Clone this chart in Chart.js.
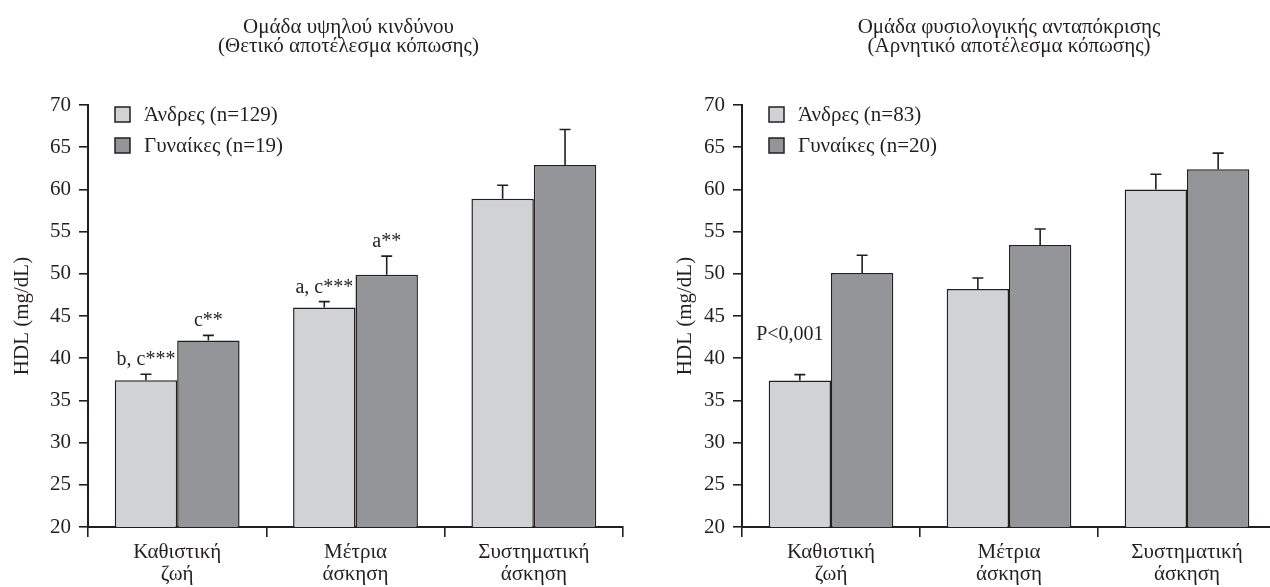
<!DOCTYPE html>
<html><head><meta charset="utf-8">
<script src="https://cdn.jsdelivr.net/npm/chart.js@4/dist/chart.umd.min.js"></script>
<style>
html,body{margin:0;padding:0;background:#fff;overflow:hidden;width:1270px;height:587px;position:relative;}
#w1{position:absolute;left:0;top:0;width:640px;height:587px;}
#w2{position:absolute;left:660px;top:0;width:640px;height:587px;}
</style></head><body>
<div id="w1"><canvas id="c1"></canvas></div>
<div id="w2"><canvas id="c2"></canvas></div>
<script>
// ---- data ----
const categories = [['Καθιστική', 'ζωή'], ['Μέτρια', 'άσκηση'], ['Συστηματική', 'άσκηση']];
const yTickValues = [20, 25, 30, 35, 40, 45, 50, 55, 60, 65, 70];
const yAxisTitle = 'HDL (mg/dL)';

const leftTitle = ['Ομάδα υψηλού κινδύνου', '(Θετικό αποτέλεσμα κόπωσης)'];
const leftMenLabel = 'Άνδρες (n=129)';
const leftWomenLabel = 'Γυναίκες (n=19)';
const leftMen = [37.4, 46.0, 58.9];
const leftMenErr = [0.7, 0.7, 1.6];
const leftWomen = [42.1, 49.9, 62.9];
const leftWomenErr = [0.6, 2.2, 4.2];
const leftMenNotes = ['b, c***', 'a, c***', ''];
const leftWomenNotes = ['c**', 'a**', ''];

const rightTitle = ['Ομάδα φυσιολογικής ανταπόκρισης', '(Αρνητικό αποτέλεσμα κόπωσης)'];
const rightMenLabel = 'Άνδρες (n=83)';
const rightWomenLabel = 'Γυναίκες (n=20)';
const rightMen = [37.35, 48.2, 60.0];
const rightMenErr = [0.7, 1.3, 1.8];
const rightWomen = [50.1, 53.4, 62.4];
const rightWomenErr = [2.1, 1.9, 1.9];
const rightMenNotes = ['P<0,001', '', ''];
const rightWomenNotes = ['', '', ''];

// ---- styles ----
const FONT = 'Liberation Serif';
const FS = 21;
const INK = '#231f20';
const MEN_COLOR = '#d1d2d4';
const WOMEN_COLOR = '#939598';

const errorBars = {
  id: 'errorBars',
  afterDatasetsDraw(chart) {
    const ctx = chart.ctx, ys = chart.scales.y;
    ctx.save();
    ctx.strokeStyle = INK; ctx.lineWidth = 1.6;
    chart.data.datasets.forEach((ds, i) => {
      const meta = chart.getDatasetMeta(i);
      meta.data.forEach((el, j) => {
        const top = ys.getPixelForValue(ds.data[j] + ds.errors[j]);
        ctx.beginPath();
        ctx.moveTo(el.x, el.y); ctx.lineTo(el.x, top);
        ctx.moveTo(el.x - 5.5, top); ctx.lineTo(el.x + 5.5, top);
        ctx.stroke();
      });
    });
    ctx.restore();
  }
};

const barNotes = {
  id: 'barNotes',
  afterDatasetsDraw(chart, args, opts) {
    const ctx = chart.ctx, ys = chart.scales.y;
    ctx.save();
    ctx.fillStyle = INK; ctx.font = (FS - 1) + 'px "' + FONT + '"';
    ctx.textAlign = 'center'; ctx.textBaseline = 'alphabetic';
    chart.data.datasets.forEach((ds, i) => {
      const meta = chart.getDatasetMeta(i);
      meta.data.forEach((el, j) => {
        const t = ds.notes[j];
        if (!t) return;
        const top = ys.getPixelForValue(ds.data[j] + ds.errors[j]);
        ctx.fillText(t, el.x + (opts.dx || 0), top - opts.gap);
      });
    });
    ctx.restore();
  }
};

const groupTitle = {
  id: 'groupTitle',
  afterDraw(chart, args, opts) {
    const ctx = chart.ctx, a = chart.chartArea;
    ctx.save();
    ctx.fillStyle = INK; ctx.font = FS + 'px "' + FONT + '"';
    ctx.textAlign = 'center'; ctx.textBaseline = 'middle';
    const cx = (a.left + a.right) / 2 + opts.dx;
    opts.text.forEach((line, k) => ctx.fillText(line, cx, opts.y + k * 19.5));
    ctx.restore();
  }
};

const boxLegend = {
  id: 'boxLegend',
  afterDraw(chart, args, opts) {
    const ctx = chart.ctx, a = chart.chartArea;
    ctx.save();
    ctx.font = FS + 'px "' + FONT + '"';
    ctx.textBaseline = 'middle'; ctx.textAlign = 'left';
    chart.data.datasets.forEach((ds, i) => {
      const x = a.left + opts.dx, y = a.top + opts.dy + i * 31;
      ctx.fillStyle = ds.backgroundColor;
      ctx.fillRect(x, y, 15, 15);
      ctx.strokeStyle = INK; ctx.lineWidth = 1.5;
      ctx.strokeRect(x, y, 15, 15);
      ctx.fillStyle = INK;
      ctx.fillText(ds.label, x + 29, y + 8);
    });
    ctx.restore();
  }
};

function makeChart(id, title, menLabel, men, menErr, menNotes, womenLabel, women, womenErr, womenNotes, yWidth, titlePad, padRight, titleDx, noteOpts) {
  return new Chart(document.getElementById(id), {
    type: 'bar',
    data: {
      labels: categories,
      datasets: [
        { label: menLabel, data: men, errors: menErr, notes: menNotes, backgroundColor: MEN_COLOR, borderColor: INK, borderWidth: 1.5 },
        { label: womenLabel, data: women, errors: womenErr, notes: womenNotes, backgroundColor: WOMEN_COLOR, borderColor: INK, borderWidth: 1.5 }
      ]
    },
    options: {
      responsive: true, maintainAspectRatio: false, animation: false,
      layout: { padding: { left: 0, right: padRight, top: 105, bottom: 0 } },
      datasets: { bar: { categoryPercentage: 0.7, barPercentage: 1.0 } },
      plugins: {
        legend: { display: false },
        tooltip: { enabled: false },
        title: { display: false },
        groupTitle: { text: title, y: 27, dx: titleDx },
        boxLegend: { dx: 27, dy: 2 },
        barNotes: noteOpts
      },
      scales: {
        x: {
          grid: { display: true, drawOnChartArea: false, drawTicks: true, tickLength: 10, offset: true, color: INK, lineWidth: 1.6 },
          border: { display: true, color: INK, width: 2 },
          ticks: { color: INK, font: { family: FONT, size: FS, lineHeight: 1.05 }, padding: 4, maxRotation: 0 },
          afterFit(s) { s.height = 60; }
        },
        y: {
          min: 20, max: 70,
          afterBuildTicks(s) { s.ticks = yTickValues.map(v => ({ value: v })); },
          grid: { display: true, drawOnChartArea: false, drawTicks: true, tickLength: 9, color: INK, lineWidth: 1.6 },
          border: { display: true, color: INK, width: 2 },
          ticks: { color: INK, font: { family: FONT, size: FS }, padding: 8 },
          title: { display: true, text: yAxisTitle, color: INK, font: { family: FONT, size: FS, lineHeight: 1.2 }, padding: { top: titlePad, bottom: 0 } },
          afterFit(s) { s.width = yWidth; }
        }
      }
    },
    plugins: [errorBars, barNotes, groupTitle, boxLegend]
  });
}

makeChart('c1', leftTitle, leftMenLabel, leftMen, leftMenErr, leftMenNotes, leftWomenLabel, leftWomen, leftWomenErr, leftWomenNotes, 88, 10, 17, -7, { gap: 9, dx: 0 });
makeChart('c2', rightTitle, rightMenLabel, rightMen, rightMenErr, rightMenNotes, rightWomenLabel, rightWomen, rightWomenErr, rightWomenNotes, 82, 13, 24, 0, { gap: 35, dx: -10 });
</script>
</body></html>
